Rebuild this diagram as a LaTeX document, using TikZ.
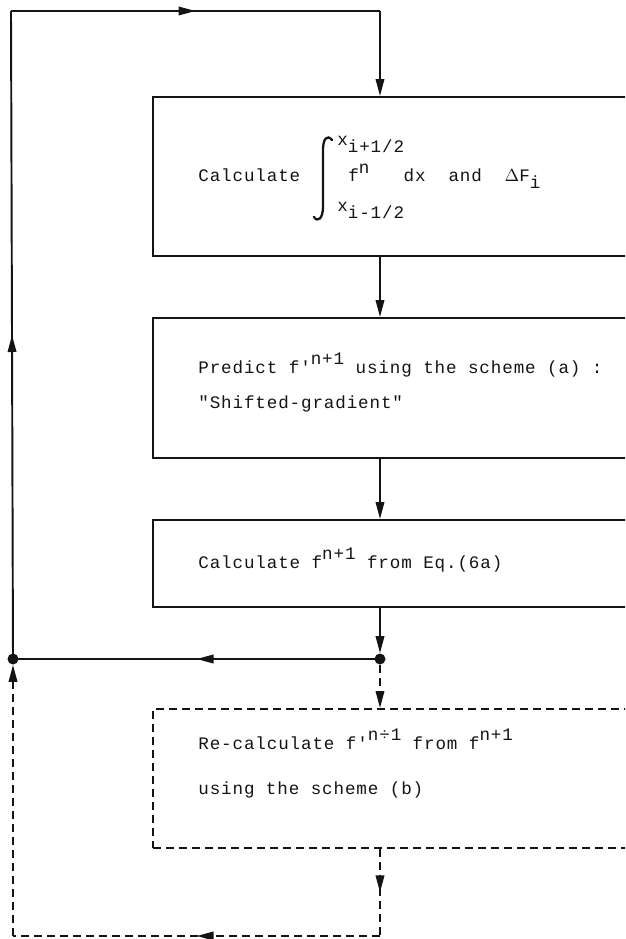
\documentclass[tikz,border=0pt]{standalone}
\usepackage{fontspec}
\usepackage{tikz}
\usetikzlibrary{arrows.meta}
\usetikzlibrary{decorations.markings}
\newfontfamily\flowfont[LetterSpace=5]{Liberation Mono}
\definecolor{ColInk}{RGB}{20,20,20}
\newcommand{\upr}[1]{\raisebox{0.95ex}{#1}}
\newcommand{\lwr}[1]{\raisebox{-0.75ex}{#1}}
\tikzstyle{FlowTip}=[-{Triangle[length=3.4mm,width=1.7mm]}]
\tikzstyle{BoxStep}=[draw=ColInk,line width=1.1pt,inner sep=0pt]
\tikzstyle{BoxDashed}=[BoxStep,dash pattern=on 1.6mm off 1mm]
\tikzstyle{TextStep}=[anchor=base west,inner sep=0pt,text=ColInk,font=\flowfont\fontsize{10pt}{12pt}\selectfont]
\tikzstyle{EdgeFlow}=[ColInk,line width=1.1pt]
\tikzstyle{EdgeDashed}=[EdgeFlow,dash pattern=on 1.6mm off 1mm]
\tikzstyle{MidTip}=[postaction={decorate},decoration={markings,
    mark=at position 0.5 with {\arrow{Triangle[length=3.4mm,width=1.7mm]}}}]
\tikzstyle{DotJoin}=[circle,fill=ColInk,inner sep=0pt,minimum size=2.2mm]

\begin{document}
\begin{tikzpicture}[x=0.02cm,y=-0.02cm]
        \useasboundingbox(0,0)rectangle(625,939);
        \clip(0,0)rectangle(625,939);
        % boxes
        \node[BoxStep,minimum width=10.94cm,minimum height=3.18cm](calc)at(426.5,176.5){};
        \node[BoxStep,minimum width=10.94cm,minimum height=2.8cm](pred)at(426.5,388){};
        \node[BoxStep,minimum width=10.94cm,minimum height=1.74cm](corr)at(426.5,563.5){};
        \node[BoxDashed,minimum width=10.94cm,minimum height=2.78cm](recalc)at(426.5,778.5){};
        % texts
        \node[TextStep](tcalc)at(198,182){Calculate};
        \draw[ColInk,line width=1.3pt,line cap=round](332,140)..controls(327,134)and(323,139)..(323,150)
            --(323,207)..controls(323,218)and(318,223)..(314,217);
        \node[TextStep](limup)at(337,146){x\lwr{i+1/2}};
        \node[TextStep](limlo)at(337,212){x\lwr{i-1/2}};
        \node[TextStep](tint)at(348,182){f\upr{n}~~~dx~~and~~$\Delta$F\lwr{i}};
        \node[TextStep](tpred)at(198,373){Predict f'\upr{n+1} using the scheme (a) :};
        \node[TextStep](tshift)at(198,408){"Shifted-gradient"};
        \node[TextStep](tcorr)at(198,568){Calculate f\upr{n+1} from Eq.(6a)};
        \node[TextStep](trec)at(198,749){Re-calculate f'\upr{n÷1} from f\upr{n+1}};
        \node[TextStep](tuse)at(198,794){using the scheme (b)};
        % joints
        \coordinate(spine)at(380,11);
        \coordinate(topL)at(11,11);
        \node[DotJoin](dotR)at(380,659){};
        \node[DotJoin](dotL)at(13,659){};
        \coordinate(botR)at(380,936);
        \coordinate(botL)at(13,936);
        % solid loop
        \draw[EdgeFlow,MidTip](topL)--(spine);
        \draw[EdgeFlow,FlowTip](spine)--(calc.north -| spine);
        \draw[EdgeFlow,FlowTip](calc.south -| spine)--(pred.north -| spine);
        \draw[EdgeFlow,FlowTip](pred.south -| spine)--(corr.north -| spine);
        \draw[EdgeFlow,FlowTip](corr.south -| spine)--(dotR.north);
        \draw[EdgeFlow,MidTip](dotR.center)--(dotL.center);
        \draw[EdgeFlow,MidTip](dotL.center)--(topL);
        % dashed branch
        \draw[EdgeDashed,FlowTip](dotR.south)--(recalc.north -| spine);
        \draw[EdgeDashed,MidTip](recalc.south -| spine)--(botR);
        \draw[EdgeDashed,MidTip](botR)--(botL);
        \draw[EdgeDashed,FlowTip](botL)--(dotL.south);
    \end{tikzpicture}
\end{document}
